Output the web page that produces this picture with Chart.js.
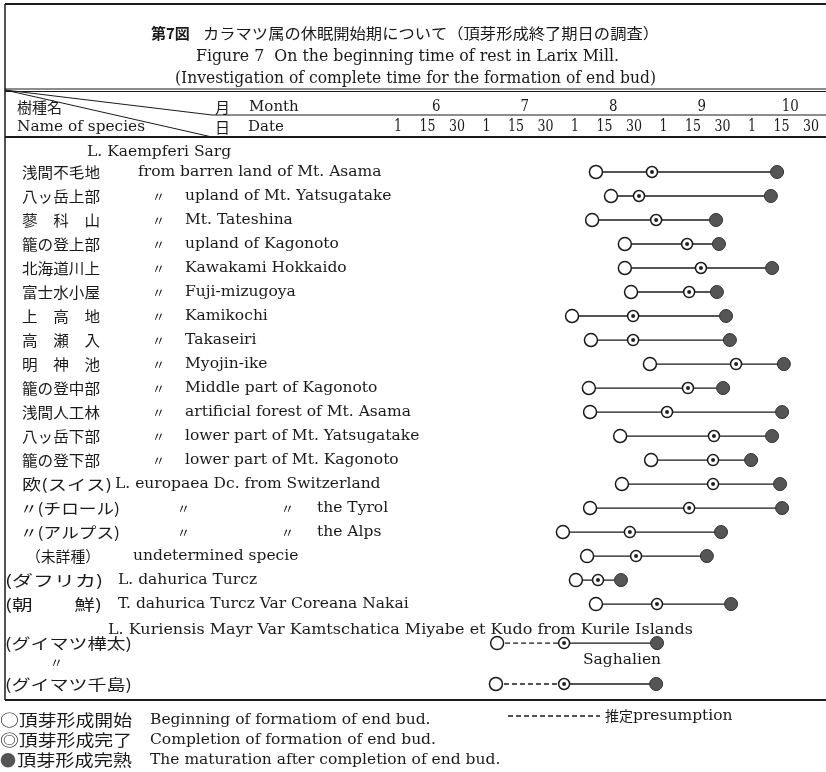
<!DOCTYPE html>
<html>
<head>
<meta charset="utf-8">
<script src="https://cdn.jsdelivr.net/npm/chart.js@4.4.0/dist/chart.umd.min.js"></script>
<style>
  html, body { margin: 0; padding: 0; background: #fff; }
  canvas { display: block; }
</style>
</head>
<body>
<canvas id="chart" width="826" height="772"></canvas>
<script>
// --- data: positions on the printed date scale (0 = Jun 1 column ... 14 = Oct 30 column) ---
const tickLabels = ['1', '15', '30', '1', '15', '30', '1', '15', '30', '1', '15', '30', '1', '15', '30'];
const monthLabels = ['6', '7', '8', '9', '10'];

const speciesJa = ['浅間不毛地', '八ッ岳上部', '蓼　科　山', '籠の登上部', '北海道川上', '富士水小屋', '上　高　地',
  '高　瀬　入', '明　神　池', '籠の登中部', '浅間人工林', '八ッ岳下部', '籠の登下部', '欧(スイス)',
  '〃(チロール)', '〃(アルプス)', '（未詳種）', '(ダフリカ)', '(朝　　鮮)', '(グイマツ樺太)', '(グイマツ千島)'];
const speciesEn = ['from barren land of Mt. Asama', 'upland of Mt. Yatsugatake', 'Mt. Tateshina', 'upland of Kagonoto',
  'Kawakami Hokkaido', 'Fuji-mizugoya', 'Kamikochi', 'Takaseiri', 'Myojin-ike', 'Middle part of Kagonoto',
  'artificial forest of Mt. Asama', 'lower part of Mt. Yatsugatake', 'lower part of Mt. Kagonoto',
  'L. europaea Dc. from Switzerland', 'the Tyrol', 'the Alps', 'undetermined specie', 'L. dahurica Turcz',
  'T. dahurica Turcz Var Coreana Nakai', '', ''];

// beginning / completion / maturation of the end bud
const startPos = [6.71, 7.22, 6.58, 7.69, 7.69, 7.90, 5.90, 6.54, 8.54, 6.47, 6.51, 7.53, 8.58, 7.59, 6.51, 5.59, 6.41, 6.03, 6.71, 3.36, 3.32];
const completePos = [8.61, 8.17, 8.75, 9.80, 10.27, 9.87, 7.97, 7.97, 11.46, 9.83, 9.12, 10.71, 10.68, 10.68, 9.87, 7.86, 8.07, 6.78, 8.78, 5.63, 5.63];
const maturePos = [12.85, 12.64, 10.78, 10.88, 12.68, 10.81, 11.12, 11.25, 13.08, 11.02, 13.02, 12.68, 11.97, 12.95, 13.02, 10.95, 10.47, 7.56, 11.29, 8.78, 8.75];
const presumed = [false, false, false, false, false, false, false, false, false, false, false, false, false, false, false, false, false, false, false, true, true];

// --- layout ---
const rowSlot = [0, 1, 2, 3, 4, 5, 6, 7, 8, 9, 10, 11, 12, 13, 14, 15, 16, 17, 18, 19.625, 21.33];
const labelBox = [[22, 78], [22, 78], [22, 78], [22, 78], [22, 78], [22, 78], [22, 78], [22, 78], [22, 78], [22, 78],
  [22, 78], [22, 78], [22, 78], [22, 90], [20, 100], [20, 100], [26, 74], [5, 98], [5, 97], [5, 127], [5, 127]];
const enX = [138, 185, 185, 185, 185, 185, 185, 185, 185, 185, 185, 185, 185, 115, 317, 317, 133, 118, 118, 0, 0];

const SERIF = '"DejaVu Serif", serif';
const JP = '"Noto Sans CJK JP", sans-serif';
const INK = '#1a1a1a';

function txt(ctx, s, x, y, font, opt = {}) {
  ctx.save();
  ctx.font = font;
  ctx.textBaseline = 'middle';
  ctx.textAlign = opt.align || 'left';
  ctx.fillStyle = opt.color || INK;
  if (opt.w) {
    const k = opt.w / ctx.measureText(s).width;
    ctx.translate(x, y);
    ctx.scale(k, 1);
    ctx.fillText(s, 0, 0);
  } else {
    ctx.fillText(s, x, y);
  }
  ctx.restore();
}

function line(ctx, x1, y1, x2, y2, w) {
  ctx.save();
  ctx.strokeStyle = INK;
  ctx.lineWidth = w || 1;
  ctx.beginPath();
  ctx.moveTo(x1, y1);
  ctx.lineTo(x2, y2);
  ctx.stroke();
  ctx.restore();
}

// points and connecting segments
const pts = key => startPos.map((_, i) => ({ x: key[i], y: rowSlot[i] }));
const segData = [];
startPos.forEach((s, i) => {
  segData.push({ x: s, y: rowSlot[i] }, { x: completePos[i], y: rowSlot[i] }, { x: maturePos[i], y: rowSlot[i] }, { x: null, y: null });
});

const tablePlugin = {
  id: 'table',
  beforeDraw(chart) {
    const ctx = chart.ctx;
    ctx.save();
    ctx.fillStyle = '#fff';
    ctx.fillRect(0, 0, chart.width, chart.height);
    ctx.restore();
  },
  afterDraw(chart) {
    const ctx = chart.ctx;
    const xs = chart.scales.x, ys = chart.scales.y;
    const W = chart.width;

    // frame
    line(ctx, 5, 4, W, 4, 2);
    line(ctx, 5, 4, 5, 700, 1.5);
    line(ctx, 5, 89, W, 89, 1.2);
    line(ctx, 5, 91.5, W, 91.5, 1.2);
    line(ctx, 212, 115, W, 115, 1);
    line(ctx, 5, 90, 212, 115, 1);
    line(ctx, 5, 90, 212, 137, 1);
    line(ctx, 5, 137, W, 137, 2);
    line(ctx, 5, 700, W, 700, 2);

    // titles
    txt(ctx, '第7図', 151, 33, `bold 15px ${JP}`);
    txt(ctx, 'カラマツ属の休眠開始期について（頂芽形成終了期日の調査）', 203, 33, `15px ${JP}`, { w: 456 });
    txt(ctx, 'Figure 7  On the beginning time of rest in Larix Mill.', 196, 57, `17px ${SERIF}`, { w: 423 });
    txt(ctx, '(Investigation of complete time for the formation of end bud)', 175, 79, `17px ${SERIF}`, { w: 481 });

    // header rows
    txt(ctx, '樹種名', 17, 107, `15px ${JP}`);
    txt(ctx, '月', 215, 107, `15px ${JP}`);
    txt(ctx, 'Month', 249, 107, `15px ${SERIF}`);
    monthLabels.forEach((m, i) => {
      txt(ctx, m, xs.getPixelForValue(i * 3 + 1.3), 107, `16px ${SERIF}`, { align: 'center', w: m.length * 8.5 });
    });
    txt(ctx, 'Name of species', 17, 127, `15px ${SERIF}`, { w: 128 });
    txt(ctx, '日', 215, 127, `15px ${JP}`);
    txt(ctx, 'Date', 248, 127, `15px ${SERIF}`);
    tickLabels.forEach((t, i) => {
      txt(ctx, t, xs.getPixelForValue(i), 127, `16px ${SERIF}`, { align: 'center', w: t.length * 8 });
    });

    // species text
    txt(ctx, 'L. Kaempferi Sarg', 87, ys.getPixelForValue(-0.83), `15.5px ${SERIF}`);
    speciesJa.forEach((s, i) => {
      const y = ys.getPixelForValue(rowSlot[i]);
      txt(ctx, s, labelBox[i][0], y, `15px ${JP}`, { w: labelBox[i][1] });
      if (speciesEn[i]) txt(ctx, speciesEn[i], enX[i], y, `15.5px ${SERIF}`);
      if (i >= 1 && i <= 12) txt(ctx, '〃', 152, y, `13px ${JP}`);
      if (i === 14 || i === 15) {
        txt(ctx, '〃', 177, y, `13px ${JP}`);
        txt(ctx, '〃', 281, y, `13px ${JP}`);
      }
    });
    txt(ctx, 'L. Kuriensis Mayr Var Kamtschatica Miyabe et Kudo from Kurile Islands', 108, ys.getPixelForValue(19.08), `15.5px ${SERIF}`, { w: 585 });
    txt(ctx, '〃', 50, ys.getPixelForValue(20.4), `13px ${JP}`);
    txt(ctx, 'Saghalien', 583, ys.getPixelForValue(20.33), `15.5px ${SERIF}`);

    // legend
    txt(ctx, '○頂芽形成開始', 0, 720, `16px ${JP}`, { w: 132 });
    txt(ctx, '◎頂芽形成完了', 0, 740, `16px ${JP}`, { w: 132 });
    txt(ctx, '●', 0, 760, `16px ${JP}`, { color: '#555' });
    txt(ctx, '頂芽形成完熟', 17, 760, `16px ${JP}`, { w: 115 });
    txt(ctx, 'Beginning of formatiom of end bud.', 150, 720, `15.5px ${SERIF}`);
    txt(ctx, 'Completion of formation of end bud.', 150, 740, `15.5px ${SERIF}`);
    txt(ctx, 'The maturation after completion of end bud.', 150, 760, `15.5px ${SERIF}`);
    ctx.save();
    ctx.strokeStyle = INK;
    ctx.lineWidth = 1.5;
    ctx.setLineDash([5, 3]);
    ctx.beginPath();
    ctx.moveTo(508, 716);
    ctx.lineTo(600, 716);
    ctx.stroke();
    ctx.restore();
    txt(ctx, '推定', 605, 716, `14px ${JP}`);
    txt(ctx, 'presumption', 633, 716, `15.5px ${SERIF}`);
  }
};

new Chart(document.getElementById('chart'), {
  type: 'scatter',
  data: {
    datasets: [
      { data: pts(completePos), pointRadius: 2, pointBackgroundColor: '#222', pointBorderWidth: 0, order: 0 },
      { data: pts(completePos), pointRadius: 5.5, pointBackgroundColor: '#fff', pointBorderColor: INK, pointBorderWidth: 1.5, order: 1 },
      { data: pts(maturePos), pointRadius: 6.5, pointBackgroundColor: '#555', pointBorderColor: '#333', pointBorderWidth: 1, order: 2 },
      { data: pts(startPos), pointRadius: 6.5, pointBackgroundColor: '#fff', pointBorderColor: INK, pointBorderWidth: 1.5, order: 3 },
      {
        data: segData, showLine: true, spanGaps: false, pointRadius: 0, borderColor: INK, borderWidth: 1.3, order: 4,
        segment: {
          borderDash: ctx => (presumed[Math.floor(ctx.p0DataIndex / 4)] && ctx.p0DataIndex % 4 === 0) ? [5, 3] : undefined
        }
      }
    ]
  },
  options: {
    responsive: false,
    animation: false,
    devicePixelRatio: 1,
    clip: false,
    layout: { autoPadding: false, padding: { left: 398, right: 15, top: 172, bottom: 88 } },
    plugins: { legend: { display: false }, tooltip: { enabled: false } },
    scales: {
      x: { type: 'linear', display: false, min: 0, max: 14 },
      y: { type: 'linear', display: false, min: 0, max: 21.33, reverse: true }
    }
  },
  plugins: [tablePlugin]
});
</script>
</body>
</html>
